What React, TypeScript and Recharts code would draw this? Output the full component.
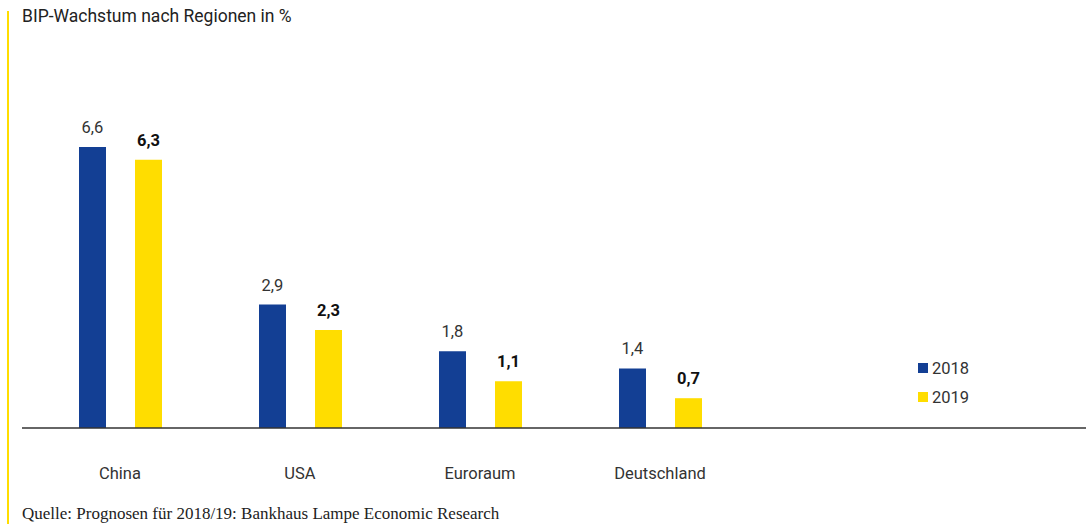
import React from 'react'
import { BarChart, Bar, XAxis, YAxis, LabelList } from 'recharts'

// GDP growth by region, in %
const regions = ['China', 'USA', 'Euroraum', 'Deutschland']
const growth2018 = [6.6, 2.9, 1.8, 1.4]
const growth2019 = [6.3, 2.3, 1.1, 0.7]

const BLUE = '#133f94'
const YELLOW = '#ffdd00'
const FONT = 'Roboto, "DejaVu Sans", sans-serif'

const data = regions.map((region, i) => ({
  region,
  y2018: growth2018[i],
  y2019: growth2019[i],
}))

const fmt = (v: any) => String(v).replace('.', ',')

export default function App() {
  return (
    <div
      style={{
        position: 'fixed',
        left: 0,
        top: 0,
        width: 1086,
        height: 524,
        background: '#fff',
        fontFamily: FONT,
      }}
    >
      {/* yellow accent bar */}
      <div style={{ position: 'absolute', left: 7, top: 11, width: 2, height: 513, background: YELLOW }} />
      <div style={{ position: 'absolute', left: 22, top: 6, fontSize: 17.5, color: '#222' }}>
        BIP-Wachstum nach Regionen in %
      </div>

      <BarChart
        width={1086}
        height={524}
        data={data}
        margin={{ top: 130, right: 0, bottom: 66, left: 22 }}
        barSize={27}
        barGap={29}
      >
        <XAxis
          dataKey='region'
          height={30}
          axisLine={{ stroke: '#333', strokeWidth: 1.5 }}
          tickLine={false}
          tick={{ fill: '#333', fontSize: 16.5, fontFamily: FONT }}
          tickMargin={33}
          padding={{ left: 8, right: 336 }}
        />
        <YAxis hide domain={[0, 7]} />
        <Bar dataKey='y2018' fill={BLUE} isAnimationActive={false}>
          <LabelList
            dataKey='y2018'
            position='top'
            offset={14}
            formatter={fmt}
            style={{ fill: '#333', fontSize: 16.5, fontFamily: FONT }}
          />
        </Bar>
        <Bar dataKey='y2019' fill={YELLOW} isAnimationActive={false}>
          <LabelList
            dataKey='y2019'
            position='top'
            offset={14}
            formatter={fmt}
            style={{ fill: '#111', fontSize: 16.5, fontWeight: 700, fontFamily: FONT }}
          />
        </Bar>
      </BarChart>

      {/* legend */}
      <div style={{ position: 'absolute', left: 918, top: 358, fontSize: 16.5, color: '#333' }}>
        <div style={{ display: 'flex', alignItems: 'center', height: 20 }}>
          <span style={{ width: 10, height: 10, background: BLUE, marginRight: 4 }} />
          2018
        </div>
        <div style={{ display: 'flex', alignItems: 'center', height: 20, marginTop: 9 }}>
          <span style={{ width: 10, height: 10, background: YELLOW, marginRight: 4 }} />
          2019
        </div>
      </div>

      <div
        style={{
          position: 'absolute',
          left: 22,
          top: 504,
          fontSize: 17,
          color: '#222',
          fontFamily: '"Liberation Serif", serif',
        }}
      >
        Quelle: Prognosen für 2018/19: Bankhaus Lampe Economic Research
      </div>
    </div>
  )
}
